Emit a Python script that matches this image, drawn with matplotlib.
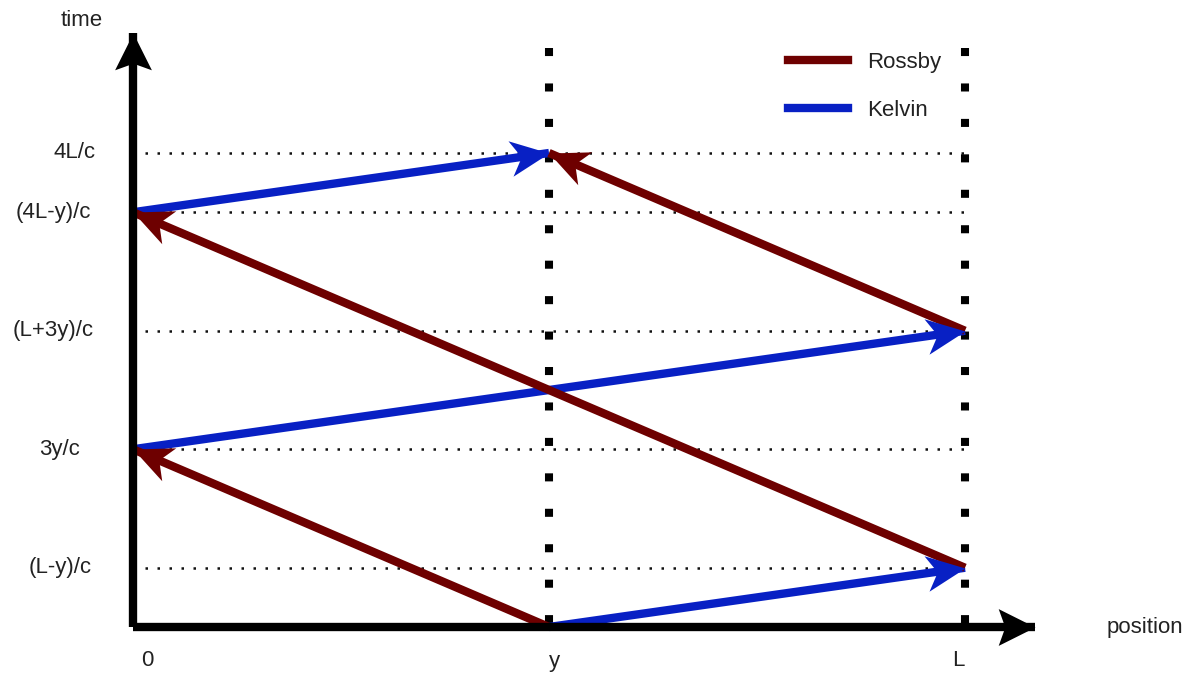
import numpy as np
import matplotlib
matplotlib.use("Agg")
import matplotlib.pyplot as plt
from matplotlib.path import Path
from matplotlib.markers import MarkerStyle
from matplotlib.transforms import Affine2D
from matplotlib.lines import Line2D

plt.rcParams['font.family'] = ['Liberation Sans', 'DejaVu Sans']

# ---- data (L = 1, y = 0.5, c = 1) ----
L = 1.0
Y = 0.5
position_ticks = [0.0, Y, L]
position_labels = ['0', 'y', 'L']
time_ticks = [L - Y, 3 * Y, L + 3 * Y, 4 * L - Y, 4 * L]
time_labels = ['(L-y)/c', '3y/c', '(L+3y)/c', '(4L-y)/c', '4L/c']

# wave paths: (x0, t0) -> (x1, t1)
rossby_x0 = [Y, L, L]
rossby_t0 = [0.0, L - Y, L + 3 * Y]
rossby_x1 = [0.0, 0.0, Y]
rossby_t1 = [3 * Y, 4 * L - Y, 4 * L]

kelvin_x0 = [Y, 0.0, 0.0]
kelvin_t0 = [0.0, 3 * Y, 4 * L - Y]
kelvin_x1 = [L, L, Y]
kelvin_t1 = [L - Y, L + 3 * Y, 4 * L]

ROSSBY = '#6e0000'
KELVIN = '#0820c4'
TXT = '#222222'
FS = 16

fig = plt.figure(figsize=(12, 6.76), dpi=100)
ax = fig.add_axes([0, 0, 1, 1])
PX = 832.0     # pixels per unit position
PT = 118.5     # pixels per unit time
ax.set_xlim(-133 / PX, (1200 - 133) / PX)
ax.set_ylim(-49 / PT, (676 - 49) / PT)
ax.axis('off')


def head_marker(angle_deg, notch=-0.72, half=0.46):
    verts = [(0, 0), (-1, half), (notch, 0), (-1, -half), (0, 0)]
    codes = [Path.MOVETO, Path.LINETO, Path.LINETO, Path.LINETO, Path.CLOSEPOLY]
    return MarkerStyle(Path(verts, codes), transform=Affine2D().rotate_deg(angle_deg))


def draw_arrow(x0, t0, x1, t1, color, lw=6.0, ms=56, notch=-0.72, half=0.46, z=3):
    ax.plot([x0, x1], [t0, t1], color=color, lw=lw, solid_capstyle='butt', zorder=z)
    p0 = ax.transData.transform((x0, t0))
    p1 = ax.transData.transform((x1, t1))
    ang = np.degrees(np.arctan2(p1[1] - p0[1], p1[0] - p0[0]))
    ax.plot([x1], [t1], marker=head_marker(ang, notch, half), markersize=ms,
            color=color, markeredgewidth=0, linestyle='none', zorder=z + 0.5)


# horizontal dotted guide lines
for t in time_ticks:
    ax.plot([12 / PX, L], [t, t], color='#111111', lw=1.8,
            dashes=(1, 3.8), dash_capstyle='butt', zorder=1)

# vertical dotted lines at y and L
top_t = (627 - 48) / PT
for xv in [Y, L]:
    ax.plot([xv, xv], [top_t, 0], color='black', lw=5.8,
            dashes=(1, 3.4), dash_capstyle='butt', zorder=1)

# axes
x_end = (1035 - 133) / PX
t_end = (627 - 33) / PT
draw_arrow(0, 0, x_end, 0, 'black', lw=6.0, ms=53, notch=-0.82, half=0.5, z=4)
draw_arrow(0, 0, 0, t_end, 'black', lw=6.0, ms=53, notch=-0.82, half=0.5, z=4)

# waves
for i in range(3):
    draw_arrow(kelvin_x0[i], kelvin_t0[i], kelvin_x1[i], kelvin_t1[i], KELVIN)
for i in range(3):
    draw_arrow(rossby_x0[i], rossby_t0[i], rossby_x1[i], rossby_t1[i], ROSSBY)

# tick labels
label_cx = [60, 60, 53, 53, 75]   # pixel centres of the time labels
for t, lab, cx in zip(time_ticks, time_labels, label_cx):
    ax.text((cx - 133) / PX, t, lab, ha='center', va='center', fontsize=FS, color=TXT)
xoff = [14, 5, -7]
for xv, lab, o in zip(position_ticks, position_labels, xoff):
    ax.text(xv + o / PX, -34 / PT, lab, ha='center', va='center', fontsize=FS, color=TXT)

ax.text((82 - 133) / PX, (627 - 20) / PT, 'time', ha='center', va='center',
        fontsize=FS, color=TXT)
ax.text((1145 - 133) / PX, 0.0, 'position', ha='center', va='center',
        fontsize=FS, color=TXT)

handles = [Line2D([], [], color=ROSSBY, lw=6.0), Line2D([], [], color=KELVIN, lw=6.0)]
ax.legend(handles, ['Rossby', 'Kelvin'], loc='upper left',
          bbox_to_anchor=(788 / 1200, 1 - 52 / 676), frameon=False,
          fontsize=FS, handlelength=2.7, handletextpad=0.86,
          labelspacing=1.2, borderpad=0, borderaxespad=0, labelcolor=TXT)

fig.savefig('out.png', dpi=100)
